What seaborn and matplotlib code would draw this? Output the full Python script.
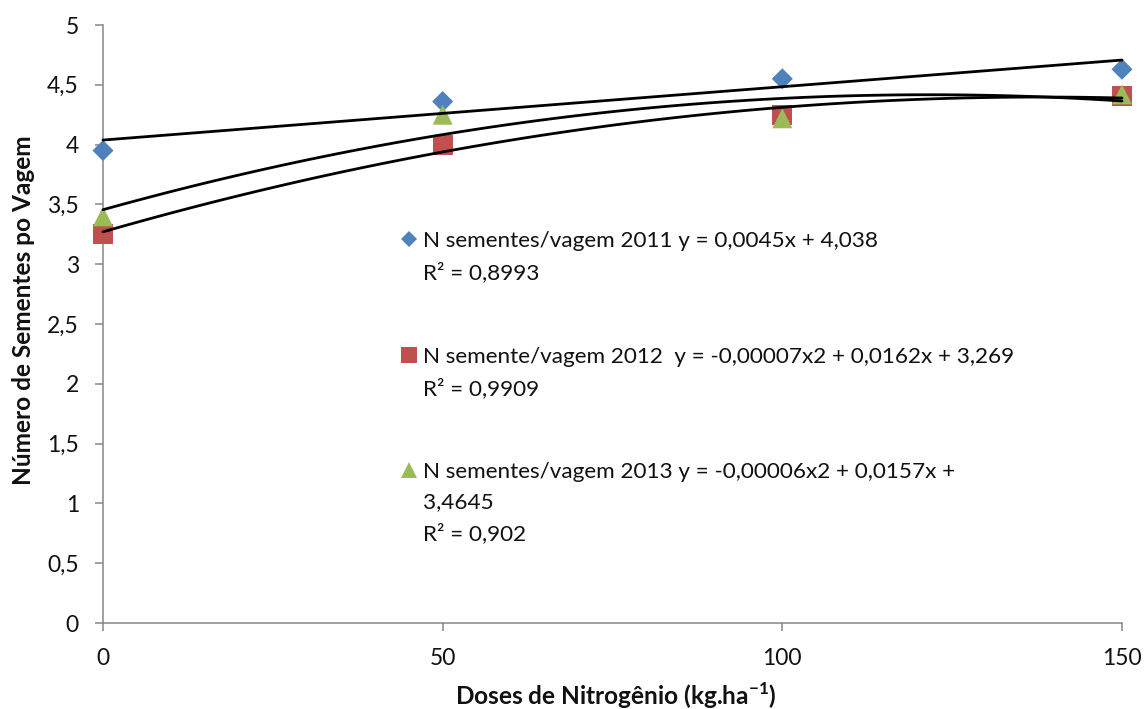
import numpy as np
import pandas as pd
import matplotlib
matplotlib.use("Agg")
import matplotlib.pyplot as plt
from matplotlib.lines import Line2D
import seaborn as sns

# ---------------- data ----------------
doses = [0, 50, 100, 150]
sementes_2011 = [3.95, 4.36, 4.55, 4.63]
sementes_2012 = [3.25, 4.00, 4.25, 4.41]
sementes_2013 = [3.40, 4.25, 4.22, 4.42]

anos = ["2011", "2012", "2013"]
trend_orders = [1, 2, 2]
legend_labels = [
    "N sementes/vagem 2011 y = 0,0045x + 4,038\nR² = 0,8993",
    "N semente/vagem 2012  y = -0,00007x2 + 0,0162x + 3,269\nR² = 0,9909",
    "N sementes/vagem 2013 y = -0,00006x2 + 0,0157x + \n3,4645\nR² = 0,902",
]
x_ticks = [0, 50, 100, 150]
x_tick_labels = ["0", "50", "100", "150"]
y_ticks = [0, 0.5, 1, 1.5, 2, 2.5, 3, 3.5, 4, 4.5, 5]
y_tick_labels = ["0", "0,5", "1", "1,5", "2", "2,5", "3", "3,5", "4", "4,5", "5"]
x_label = r"Doses de Nitrogênio (kg.ha$^{\mathbf{-1}}$)"
y_label = "Número de Sementes po Vagem"

# ---------------- styles ----------------
palette = {"2011": "#4F81BD", "2012": "#C0504D", "2013": "#9BBB59"}
markers = {"2011": "D", "2012": "s", "2013": "^"}
sizes = {"2011": 115, "2012": 207, "2013": 207}
legend_ms = {"2011": 8.2, "2012": 12.0, "2013": 12.0}
GREY = "#868686"

sns.set_theme(style="ticks")
plt.rcParams["font.family"] = ["Lato", "DejaVu Sans"]
plt.rcParams["mathtext.fontset"] = "custom"
plt.rcParams["mathtext.rm"] = "Lato"
plt.rcParams["mathtext.bf"] = "Lato:bold"

df = pd.DataFrame({
    "dose": doses * 3,
    "valor": sementes_2011 + sementes_2012 + sementes_2013,
    "ano": [a for a in anos for _ in doses],
})

fig = plt.figure(figsize=(11.45, 7.09), dpi=100)
ax = fig.add_axes([103 / 1145, 1 - 623 / 709, 1019 / 1145, 598 / 709])

sns.scatterplot(data=df, x="dose", y="valor", hue="ano", style="ano",
                size="ano", palette=palette, markers=markers, sizes=sizes,
                linewidth=0, legend=False, ax=ax, zorder=3)
for coll in ax.collections:
    coll.set_clip_on(False)

for ano, order in zip(anos, trend_orders):
    sub = df[df["ano"] == ano]
    sns.regplot(data=sub, x="dose", y="valor", order=order, ci=None,
                scatter=False, truncate=True, ax=ax,
                line_kws=dict(color="black", lw=2.0, zorder=4, clip_on=False))

ax.set_xlim(0, 150)
ax.set_ylim(0, 5)
ax.set_xticks(x_ticks)
ax.set_xticklabels(x_tick_labels)
ax.set_yticks(y_ticks)
ax.set_yticklabels(y_tick_labels)

for side in ["top", "right"]:
    ax.spines[side].set_visible(False)
for side in ["left", "bottom"]:
    ax.spines[side].set_color(GREY)
    ax.spines[side].set_linewidth(1.1)

ax.tick_params(axis="both", direction="out", length=5.8, width=1.1,
               color=GREY, labelsize=16.5, labelcolor="#111111")
ax.tick_params(axis="x", pad=12.0)
ax.tick_params(axis="y", pad=11.5)

ax.set_xlabel(x_label, fontsize=17.6, fontweight="bold", color="#111111")
ax.set_ylabel(y_label, fontsize=17.6, fontweight="bold", color="#111111")
ax.xaxis.set_label_coords(0.503, -0.096)
ax.yaxis.set_label_coords(-0.0667, 0.523)

handles = [Line2D([], [], marker=markers[a], color=palette[a], linestyle="none",
                  markersize=legend_ms[a], markeredgewidth=0) for a in anos]
leg = ax.legend(handles, legend_labels, loc="upper left",
                bbox_to_anchor=(0.2915, 0.6547), frameon=False, borderpad=0,
                borderaxespad=0, handlelength=0.8, handletextpad=0.2,
                labelspacing=2.82, fontsize=16.2)
for t in leg.get_texts():
    t.set_linespacing(1.65)
    t.set_color("#111111")
for col in leg._legend_handle_box.get_children():
    for item in col.get_children():
        item.align = "top"

fig.savefig("out.png", dpi=100, facecolor="white")
